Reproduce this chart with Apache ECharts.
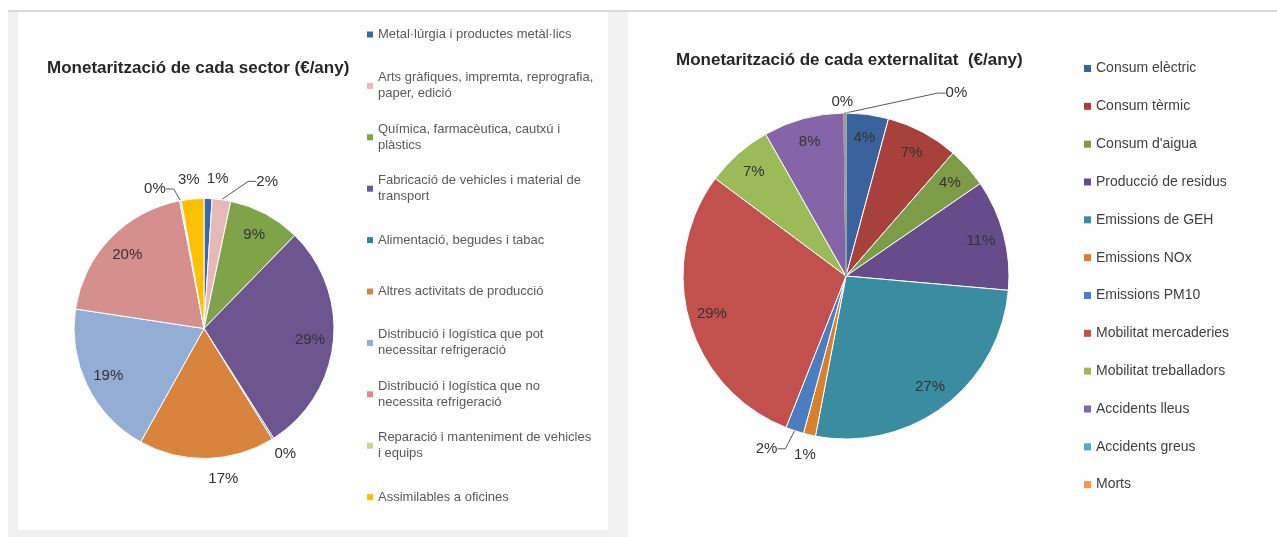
<!DOCTYPE html>
<html>
<head>
<meta charset="utf-8">
<title>Monetarització</title>
<script src="https://cdn.jsdelivr.net/npm/echarts@6/dist/echarts.min.js"></script>
<style>
  html, body { margin: 0; padding: 0; background: #fff; }
  #chart { width: 1277px; height: 537px; }
</style>
</head>
<body>
<div id="chart"></div>
<script>
// sectors (left pie), share of the cost in %
var sectors = [
  "Metal·lúrgia i productes metàl·lics",
  "Arts gràfiques, impremta, reprografia,\npaper, edició",
  "Química, farmacèutica, cautxú i\nplàstics",
  "Fabricació de vehicles i material de\ntransport",
  "Alimentació, begudes i tabac",
  "Altres activitats de producció",
  "Distribució i logística que pot\nnecessitar refrigeració",
  "Distribució i logística que no\nnecessita refrigeració",
  "Reparació i manteniment de vehicles\ni equips",
  "Assimilables a oficines"
];
var sectorValues = [1.0, 2.3, 9.0, 28.7, 0.2, 16.9, 19.3, 19.6, 0.2, 2.8];
var sectorColors = ["#3668B0", "#E6B9B8", "#7EA349", "#6D5590", "#31849B",
                    "#D9843C", "#93AED5", "#D58F8D", "#C3D69B", "#FFC000"];

// externalities (right pie)
var externalities = [
  "Consum elèctric", "Consum tèrmic", "Consum d'aigua", "Producció de residus",
  "Emissions de GEH", "Emissions NOx", "Emissions PM10", "Mobilitat mercaderies",
  "Mobilitat treballadors", "Accidents lleus", "Accidents greus", "Morts"
];
var externalityValues = [4.2, 7.2, 4.0, 11.0, 26.6, 1.2, 1.8, 29.2, 6.6, 8.0, 0.1, 0.1];
var externalityColors = ["#3A639E", "#A8403C", "#7C9C48", "#674C8B", "#3A8CA1", "#D9802F",
                         "#4A7EC1", "#C2504D", "#9BBB59", "#8466A8", "#4BACC6", "#F79646"];

var FONT = "Liberation Sans, Arial, sans-serif";

var myChart = echarts.init(document.getElementById("chart"));

// label placement along the slice's middle angle (k = fraction of radius)
function labelPlacer(values, cx, cy, r, kInside, kOut, nudge) {
  var total = values.reduce(function (a, b) { return a + b; }, 0);
  var mids = [];
  var acc = 0;
  values.forEach(function (v) {
    mids.push(((acc + v / 2) / total) * 2 * Math.PI);
    acc += v;
  });
  return function (p) {
    var i = p.dataIndex;
    var k = kOut[i] != null ? kOut[i] : kInside;
    var n = nudge[i] || [0, 0];
    return {
      x: cx + k * r * Math.sin(mids[i]) + n[0],
      y: cy - k * r * Math.cos(mids[i]) + n[1],
      align: "center",
      verticalAlign: "middle"
    };
  };
}

// every label is laid out by labelPlacer, so all use the "outside" mode
function pieData(names, values, colors, lines, greyEdge) {
  return names.map(function (name, i) {
    var item = {
      name: name,
      value: values[i],
      itemStyle: { color: colors[i] },
      labelLine: { show: lines.indexOf(i) >= 0 }
    };
    if (greyEdge && greyEdge.indexOf(i) >= 0) {
      item.itemStyle.borderColor = "#9a9a9a";
    }
    return item;
  });
}

function buildLegends(names, left, firstY, step, lh, icon, fontSize, color) {
  return names.map(function (name, i) {
    var twoLines = name.indexOf("\n") >= 0;
    var y = firstY + i * step;
    return {
      orient: "vertical",
      left: left,
      top: twoLines ? y - 1.5 * lh : y - lh / 2,
      padding: 0,
      icon: "rect",
      itemWidth: icon,
      itemHeight: icon,
      itemStyle: { borderWidth: 0 },
      selectedMode: false,
      data: [name],
      textStyle: {
        fontFamily: FONT,
        fontSize: fontSize,
        color: color,
        lineHeight: lh,
        padding: twoLines ? [lh, 0, 0, 0] : 0
      }
    };
  });
}

var L = { cx: 204, cy: 328.5, r: 130 };
var R = { cx: 846, cy: 276, r: 163 };

var labelStyle = {
  position: "outside",
  formatter: function (p) { return Math.round(p.percent) + "%"; },
  fontFamily: FONT,
  fontSize: 15,
  color: "#333333"
};
var lineStyle = { show: false, length: 6, length2: 8, lineStyle: { color: "#595959", width: 1 } };

var option = {
  backgroundColor: "#ffffff",
  animation: false,
  graphic: [
    { type: "rect", silent: true, shape: { x: 8, y: 10, width: 1269, height: 2 }, style: { fill: "#d9d9d9" } },
    { type: "rect", silent: true, shape: { x: 8, y: 12, width: 10, height: 525 }, style: { fill: "#f0f0f0" } },
    { type: "rect", silent: true, shape: { x: 18, y: 530, width: 590, height: 7 }, style: { fill: "#f0f0f0" } },
    { type: "rect", silent: true, shape: { x: 608, y: 12, width: 20, height: 525 }, style: { fill: "#f2f2f2" } }
  ],
  title: [
    {
      text: "Monetarització de cada sector (€/any)",
      left: 47, top: 58.5, padding: 0,
      textStyle: { fontFamily: FONT, fontSize: 17, fontWeight: "bold", color: "#262626", lineHeight: 20 }
    },
    {
      text: "Monetarització de cada externalitat  (€/any)",
      left: 676, top: 50, padding: 0,
      textStyle: { fontFamily: FONT, fontSize: 17, fontWeight: "bold", color: "#262626", lineHeight: 20 }
    }
  ],
  legend: buildLegends(sectors, 367, 34.5, 51.4, 16, 6, 13, "#595959")
    .concat(buildLegends(externalities, 1084, 68.5, 37.83, 18, 7, 14, "#404040")),
  series: [
    {
      name: "sector",
      type: "pie",
      center: [L.cx, L.cy],
      radius: L.r,
      startAngle: 90,
      clockwise: true,
      avoidLabelOverlap: false,
      emphasis: { disabled: true },
      itemStyle: { borderColor: "#ffffff", borderWidth: 1 },
      label: labelStyle,
      labelLine: lineStyle,
      data: pieData(sectors, sectorValues, sectorColors, [1, 8]),
      labelLayout: labelPlacer(sectorValues, L.cx, L.cy, L.r, 0.82,
        { 0: 1.15, 1: 1.15, 4: 1.15, 5: 1.16, 8: 1.15, 9: 1.15 },
        { 0: [9, 0], 1: [43, 1], 4: [2, -1], 5: [16, 0], 8: [-22, 7.5], 9: [-2, 0] })
    },
    {
      name: "externalitat",
      type: "pie",
      center: [R.cx, R.cy],
      radius: R.r,
      startAngle: 90,
      clockwise: true,
      avoidLabelOverlap: false,
      emphasis: { disabled: true },
      itemStyle: { borderColor: "#ffffff", borderWidth: 1 },
      label: labelStyle,
      labelLine: lineStyle,
      data: pieData(externalities, externalityValues, externalityColors, [6, 11], [10, 11]),
      labelLayout: labelPlacer(externalityValues, R.cx, R.cy, R.r, 0.855,
        { 5: 1.125, 6: 1.13, 10: 1.07, 11: 1.07 },
        { 6: [-21.5, -2], 10: [-2, 0], 11: [111, -8.5] })
    }
  ]
};

myChart.setOption(option);
</script>
</body>
</html>
